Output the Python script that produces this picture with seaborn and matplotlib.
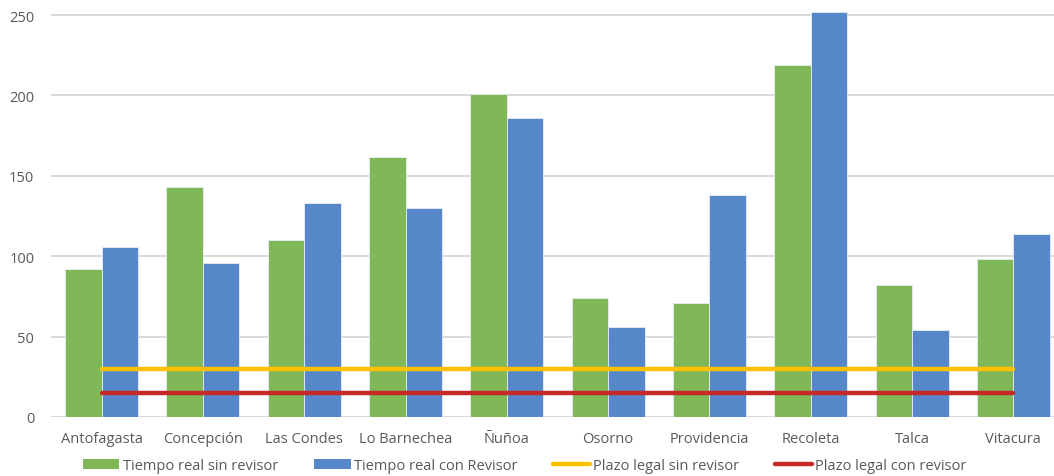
import matplotlib
matplotlib.use("Agg")
import matplotlib.pyplot as plt
from matplotlib.patches import Patch
from matplotlib.lines import Line2D
import seaborn as sns
import pandas as pd

categorias = ["Antofagasta", "Concepción", "Las Condes", "Lo Barnechea", "Ñuñoa",
              "Osorno", "Providencia", "Recoleta", "Talca", "Vitacura"]
sin_revisor = [92, 143, 110, 162, 201, 74, 71, 219, 82, 98]
con_revisor = [106, 96, 133, 130, 186, 56, 138, 252, 54, 114]
plazo_sin = [30, 30, 30, 30, 30, 30, 30, 30, 30, 30]
plazo_con = [15, 15, 15, 15, 15, 15, 15, 15, 15, 15]
yticks = [0, 50, 100, 150, 200, 250]

serie_sin = "Tiempo real sin revisor"
serie_con = "Tiempo real con Revisor"
linea_sin = "Plazo legal sin revisor"
linea_con = "Plazo legal con revisor"

GREEN = "#80B857"
BLUE = "#5687C8"
YELLOW = "#FFC000"
RED = "#C62A27"
TEXT = "#595959"

sns.set_theme(style="white")
plt.rcParams["font.family"] = ["Open Sans", "DejaVu Sans"]

df = pd.DataFrame({
    "Comuna": categorias * 2,
    "Serie": [serie_sin] * len(categorias) + [serie_con] * len(categorias),
    "Dias": sin_revisor + con_revisor,
})

fig = plt.figure(figsize=(10.54, 4.77), dpi=100)
ax = fig.add_axes([51 / 1054, 59 / 477, 1013 / 1054, 418 / 477])

sns.barplot(data=df, x="Comuna", y="Dias", hue="Serie", order=categorias,
            hue_order=[serie_sin, serie_con], palette=[GREEN, BLUE],
            width=0.72, ax=ax, legend=False, saturation=1,
            edgecolor="#E6EEF7", linewidth=0.6)

pos = list(range(len(categorias)))
sns.lineplot(x=pos, y=plazo_sin, color=YELLOW, lw=3.2, ax=ax, legend=False)
sns.lineplot(x=pos, y=plazo_con, color=RED, lw=3.2, ax=ax, legend=False)

ax.set_xlim(-0.5, len(categorias) - 0.5)
ax.set_ylim(0, 260)
ax.set_yticks(yticks)
ax.yaxis.grid(True, color="#D9D9D9", lw=1.4)
ax.set_axisbelow(True)
for s in ax.spines.values():
    s.set_visible(False)
ax.set_xlabel("")
ax.set_ylabel("")
ax.tick_params(axis="both", length=0, colors=TEXT, labelsize=10.5)
ax.tick_params(axis="x", pad=10)
ax.tick_params(axis="y", pad=12)

handles = [
    Patch(facecolor=GREEN, edgecolor="none"),
    Patch(facecolor=BLUE, edgecolor="none"),
    Line2D([0], [0], color=YELLOW, lw=3.2),
    Line2D([0], [0], color=RED, lw=3.2),
]
fig.legend(handles, [serie_sin, serie_con, linea_sin, linea_con],
           loc="center", bbox_to_anchor=(0.498, 0.021), ncol=4, frameon=False,
           fontsize=10.5, labelcolor=TEXT, handlelength=2.5, handleheight=0.7,
           handletextpad=0.25, columnspacing=2.45)

fig.savefig("out.png", dpi=100)
